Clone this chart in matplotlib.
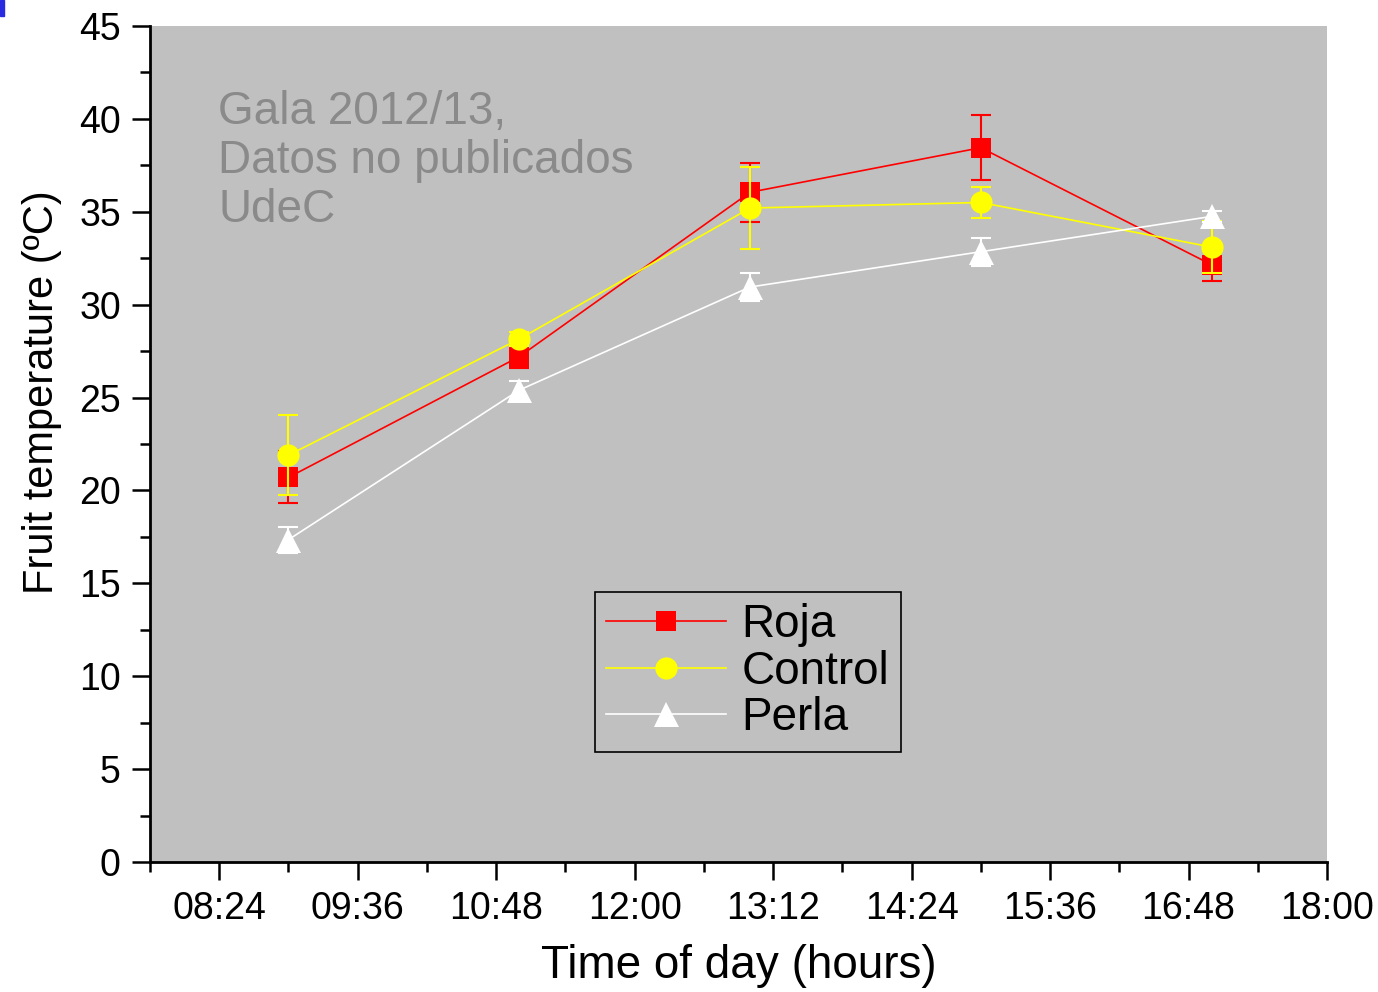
import matplotlib
matplotlib.use("Agg")
import matplotlib.pyplot as plt
from matplotlib.patches import Rectangle
from matplotlib.ticker import FixedLocator, FuncFormatter

# sampling times and means / errors
times = ["09:00", "11:00", "13:00", "15:00", "17:00"]

roja = [20.7, 27.2, 36.05, 38.45, 32.15]
roja_err = [1.4, 0.6, 1.6, 1.75, 0.9]

control = [21.9, 28.15, 35.2, 35.5, 33.1]
control_err = [2.15, 0.4, 2.2, 0.85, 1.4]

perla = [17.35, 25.4, 30.95, 32.85, 34.75]
perla_err = [0.7, 0.5, 0.75, 0.75, 0.3]

x_ticks = ["08:24", "09:36", "10:48", "12:00", "13:12", "14:24", "15:36", "16:48", "18:00"]


def to_hours(t):
    h, m = t.split(":")
    return int(h) + int(m) / 60


def fmt_time(v, pos=None):
    mins = int(round(v * 60))
    return f"{mins // 60:02d}:{mins % 60:02d}"


plt.rcParams["font.family"] = ["Liberation Sans", "DejaVu Sans"]

fig = plt.figure(figsize=(13.78, 9.92), dpi=100)
ax = fig.add_axes([150 / 1378, 1 - 862 / 992, (1327 - 150) / 1378, (862 - 26) / 992])
ax.set_facecolor("#c0c0c0")

x = [to_hours(t) for t in times]

series = [
    ("Roja", roja, roja_err, "#ff0000", "s", 14),
    ("Control", control, control_err, "#ffff00", "o", 16),
    ("Perla", perla, perla_err, "#ffffff", "^", 18),
]
handles = []
for name, y, err, color, marker, ms in series:
    ax.errorbar(x, y, yerr=err, fmt="none", ecolor=color,
                elinewidth=1.5, capsize=7, capthick=1.5)
    line, = ax.plot(x, y, color=color, marker=marker, markersize=ms,
                    markeredgewidth=0, linewidth=1.2, label=name)
    handles.append(line)

ax.set_xlim(to_hours("07:48"), to_hours("18:00"))
ax.set_ylim(0, 45)

major_x = [to_hours(t) for t in x_ticks]
minor_x = [to_hours("07:48") + 1.2 * i for i in range(0, 9)]
ax.xaxis.set_major_locator(FixedLocator(major_x))
ax.xaxis.set_minor_locator(FixedLocator(minor_x))
ax.xaxis.set_major_formatter(FuncFormatter(fmt_time))
ax.set_yticks(range(0, 46, 5))
ax.set_yticks([2.5 + 5 * i for i in range(9)], minor=True)

ax.tick_params(which="major", direction="out", length=13, width=1.8,
               labelsize=27, pad=8)
ax.tick_params(which="minor", direction="out", length=7, width=1.8)
ax.spines["top"].set_visible(False)
ax.spines["right"].set_visible(False)
for s in ("left", "bottom"):
    ax.spines[s].set_linewidth(2)

ax.set_xlabel("Time of day (hours)", fontsize=33, labelpad=12)
ax.set_ylabel("Fruit temperature (ºC)", fontsize=30, labelpad=12)
ax.yaxis.label.set_y((862 - 392) / 836)

ax.text(218, 992 - 90, "Gala 2012/13,\nDatos no publicados\nUdeC",
        transform=None, fontsize=33, color="#8a8a8a", va="top", ha="left",
        linespacing=1.15)

leg = ax.legend(handles=handles, loc="upper left",
                bbox_to_anchor=((595 - 150) / 1177, (862 - 592) / 836),
                fontsize=33, frameon=True, fancybox=False, edgecolor="black",
                facecolor="#c0c0c0", framealpha=1, handlelength=2.6,
                borderpad=0.25, labelspacing=0.05, handletextpad=0.35,
                borderaxespad=0)
leg.get_frame().set_linewidth(1.2)

fig.patches.append(Rectangle((0, 1 - 16 / 992), 4 / 1378, 16 / 992,
                             transform=fig.transFigure, color="#2a2ae0"))

fig.savefig("out.png", dpi=100)
